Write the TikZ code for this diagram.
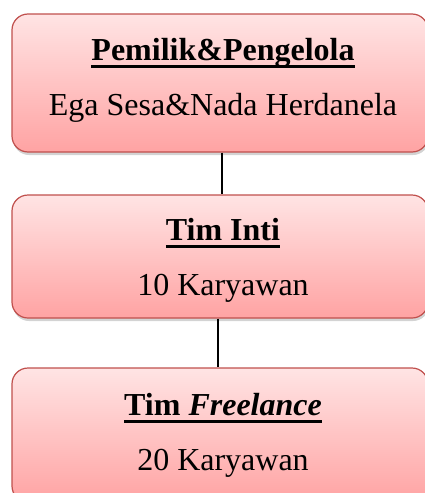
\documentclass[tikz,border=0pt]{standalone}
\usepackage{fontspec}
\setmainfont{Liberation Serif}
\usetikzlibrary{shadows}
\definecolor{kotakatas}{HTML}{FFE4E4}
\definecolor{kotakbawah}{HTML}{FFA3A3}
\definecolor{garis}{HTML}{C0504D}
\newcommand{\garisbawah}[1]{\setbox0\hbox{#1}\rlap{\raisebox{-7.5pt}{\rule{\wd0}{2.6pt}}}\box0}
\begin{document}
\begin{tikzpicture}[x=1pt,y=-1pt]
    \tikzstyle{kotak}=[rectangle,rounded corners=16pt,draw=garis,line width=1.2pt,
        top color=kotakatas,bottom color=kotakbawah,minimum width=416pt,
        drop shadow={shadow xshift=1pt,shadow yshift=-3pt,opacity=0.35}]
    \tikzstyle{teks}=[anchor=base,font=\fontsize{32}{38}\selectfont,inner sep=0pt]
    \useasboundingbox (0,0) rectangle (425,493);

    \node[kotak,minimum height=138pt] (pemilik) at (220,83) {};
    \node[kotak,minimum height=123pt] (inti) at (220,256.5) {};
    \node[kotak,minimum height=134pt] (freelance) at (220,435) {};

    \draw[line width=2pt] ([xshift=2pt]pemilik.south) -- ([xshift=2pt]inti.north);
    \draw[line width=2pt] ([xshift=-2pt]inti.south) -- ([xshift=-2pt]freelance.north);

    \node[teks] (judul1) at (223,60) {\garisbawah{\textbf{Pemilik\&Pengelola}}};
    \node[teks] (isi1) at (223,115) {Ega Sesa\&Nada Herdanela};
    \node[teks] (judul2) at (223,240) {\garisbawah{\textbf{Tim Inti}}};
    \node[teks] (isi2) at (223,295) {10 Karyawan};
    \node[teks] (judul3) at (223,415) {\garisbawah{\textbf{Tim \textit{Freelance}}}};
    \node[teks] (isi3) at (223,470) {20 Karyawan};

\end{tikzpicture}
\end{document}
